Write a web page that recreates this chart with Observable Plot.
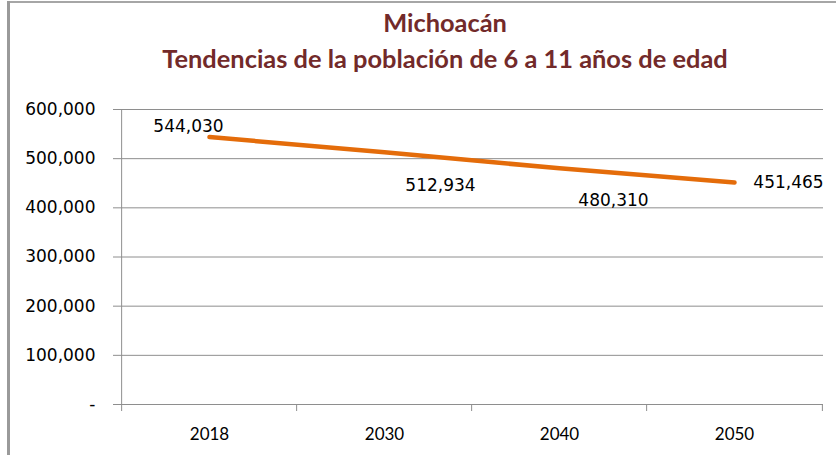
<!DOCTYPE html>
<html>
<head>
<meta charset="utf-8">
<script src="https://cdn.jsdelivr.net/npm/d3@7"></script>
<script src="https://cdn.jsdelivr.net/npm/@observablehq/plot@0.6"></script>
<style>
  html, body { margin: 0; padding: 0; background: #fff; overflow: hidden; }
  #wrap { position: relative; width: 836px; height: 455px; background: #fff; }
  #frameTop { position: absolute; left: 7px; top: 1px; width: 829px; height: 2px; background: #a6a6a6; }
  #frameLeft { position: absolute; left: 7px; top: 1px; width: 3px; height: 454px; background: #9a9a9a; }
  #title { position: absolute; left: 54px; top: 4px; width: 782px; text-align: center;
           font-family: Lato, "Open Sans", sans-serif; font-weight: bold; font-size: 25.4px;
           line-height: 36px; color: #722a2a; }
  #chart { position: absolute; left: 0; top: 95px; }
</style>
</head>
<body>
<div id="wrap">
  <div id="frameTop"></div>
  <div id="frameLeft"></div>
  <div id="title">Michoacán<br>Tendencias de la población de 6 a 11 años de edad</div>
  <div id="chart"></div>
</div>
<script>
const years = ["2018", "2030", "2040", "2050"];
const population = [544030, 512934, 480310, 451465];
const yTicks = [0, 100000, 200000, 300000, 400000, 500000, 600000];

const data = years.map((year, i) => ({year, value: population[i]}));

const W = 836, H = 360;
const mL = 120, mR = 13, mT = 14, mB = 51;
const step = (W - mL - mR) / years.length;
const gray = "#8e8e8e";
const fmt = d3.format(",");

// label offsets (Excel-style data label placement)
const labelOffsets = [[-21, -10], [56, 33], [54, 32], [54, 0]];

const labelMarks = data.map((d, i) =>
  Plot.text([d], {
    x: "year", y: "value", text: (e) => fmt(e.value),
    dx: labelOffsets[i][0], dy: labelOffsets[i][1],
    fill: "#000", fontSize: 17, fontFamily: "DejaVu Sans"
  })
);

const chart = Plot.plot({
  width: W, height: H,
  marginLeft: mL, marginRight: mR, marginTop: mT, marginBottom: mB,
  style: {background: "transparent", fontFamily: "DejaVu Sans", fontSize: "17px", color: "#000"},
  x: {type: "point", domain: years, padding: 0.5},
  y: {domain: [0, 600000]},
  marks: [
    Plot.gridY(yTicks, {stroke: gray, strokeOpacity: 1, strokeWidth: 1}),
    Plot.axisY(yTicks, {
      tickSize: 7, tickPadding: 18, stroke: gray, fill: "#000",
      tickFormat: (d) => d === 0 ? "-" : fmt(d), label: null,
      fontFamily: "DejaVu Sans", fontSize: 17
    }),
    Plot.ruleX([years[0]], {dx: -step / 2, y1: 0, y2: 600000, stroke: gray}),
    Plot.ruleX(years, {x: (d) => d, dx: -step / 2, y1: 0, y2: 0, insetBottom: -7, stroke: gray}),
    Plot.ruleX([years[years.length - 1]], {x: (d) => d, dx: step / 2, y1: 0, y2: 0, insetBottom: -7, stroke: gray}),
    Plot.axisX({
      tickSize: 0, tickPadding: 23, label: null, fill: "#000",
      fontFamily: "Lato, 'Liberation Sans Narrow', sans-serif", fontSize: 17
    }),
    Plot.line(data, {x: "year", y: "value", stroke: "#e46c0a", strokeWidth: 4.5, strokeLinecap: "round"}),
    ...labelMarks
  ]
});
document.getElementById("chart").appendChild(chart);
</script>
</body>
</html>
